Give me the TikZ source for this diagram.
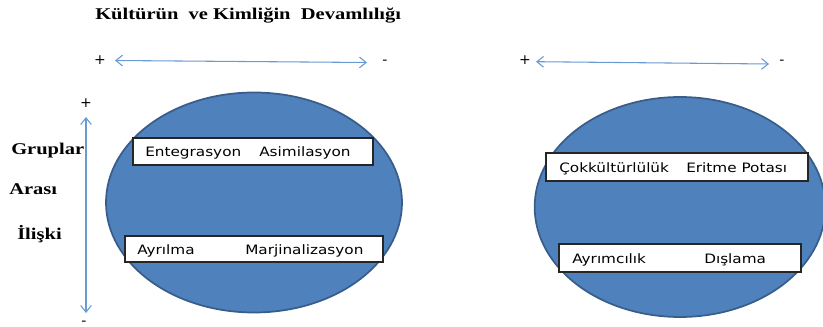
\documentclass[tikz,border=0pt]{standalone}
\usepackage{fontspec}
\setmainfont{Liberation Serif}
\newfontfamily\boxfont[FakeStretch=1.18]{DejaVu Sans}
\newfontfamily\titlefont[FakeStretch=1.25]{Liberation Serif}
\newfontfamily\signfont{DejaVu Sans}
\usetikzlibrary{arrows.meta,shapes.geometric}
\definecolor{ellfill}{HTML}{4F81BD}
\definecolor{elldraw}{HTML}{385D8A}
\definecolor{arrcol}{HTML}{6A9AD4}
\begin{document}
\begin{tikzpicture}[x=0.75pt,y=-0.75pt,
  blob/.style={ellipse,draw=elldraw,fill=ellfill,line width=1.3pt,inner sep=0pt},
  wbox/.style={rectangle,draw=black!85,fill=white,line width=0.8pt,inner sep=0pt},
  wtext/.style={anchor=base west,inner sep=0pt,font=\boxfont\fontsize{9.7pt}{11pt}\selectfont},
  ttext/.style={anchor=base west,inner sep=0pt,font=\titlefont\bfseries\fontsize{12.3pt}{14pt}\selectfont},
  sign/.style={inner sep=0pt,font=\signfont\fontsize{10.5pt}{12pt}\selectfont},
  dblarrow/.style={draw=arrcol,line width=0.8pt,{Straight Barb[length=5pt,width=8pt]}-{Straight Barb[length=5pt,width=8pt]}}]
\useasboundingbox (0,0) rectangle (823,327);

% title
\node[ttext] (title) at (95,19.3) {Kültürün\ \ ve Kimliğin\ \ Devamlılığı};

% horizontal arrows
\node[sign] (pl1) at (100,60) {+};
\node[sign] (mi1) at (385,62) {-};
\coordinate (a1s) at (115,60.5);
\coordinate (a1e) at (367,62.5);
\draw[dblarrow] (a1s) -- (a1e);

\node[sign] (pl2) at (525,60.5) {+};
\node[sign] (mi2) at (782,62.5) {-};
\coordinate (a2s) at (536,61.7);
\coordinate (a2e) at (769,64);
\draw[dblarrow] (a2s) -- (a2e);

% vertical arrow
\node[sign] (pl3) at (86,103) {+};
\node[sign] (mi3) at (84,323) {-};
\coordinate (v1s) at (86,117);
\coordinate (v1e) at (86,313);
\draw[dblarrow] (v1s) -- (v1e);

% left labels
\node[ttext] (gr) at (11,155) {Gruplar};
\node[ttext] (ar) at (9,195) {Arası};
\node[ttext] (il) at (17,240) {İlişki};

% ellipses
\node[blob,minimum width=222pt,minimum height=165pt] (e1) at (254,202.5) {};
\node[blob,minimum width=218pt,minimum height=165pt] (e2) at (680,207) {};

% left boxes
\node[wbox,minimum width=180pt,minimum height=20.25pt] (b1) at (253,151.5) {};
\node[wtext] (t1a) at (145,156.7) {Entegrasyon};
\node[wtext] (t1b) at (259,156.7) {Asimilasyon};

\node[wbox,minimum width=193.5pt,minimum height=19.5pt] (b2) at (254,249) {};
\node[wtext] (t2a) at (137,254.2) {Ayrılma};
\node[wtext] (t2b) at (245,254.2) {Marjinalizasyon};

% right boxes
\node[wbox,minimum width=196.5pt,minimum height=21pt] (b3) at (677,167) {};
\node[wtext] (t3a) at (559,172.2) {Çokkültürlülük};
\node[wtext] (t3b) at (686,172.2) {Eritme Potası};

\node[wbox,minimum width=181.5pt,minimum height=21pt] (b4) at (680,258) {};
\node[wtext] (t4a) at (572,263.2) {Ayrımcılık};
\node[wtext] (t4b) at (704,263.2) {Dışlama};
\end{tikzpicture}
\end{document}
